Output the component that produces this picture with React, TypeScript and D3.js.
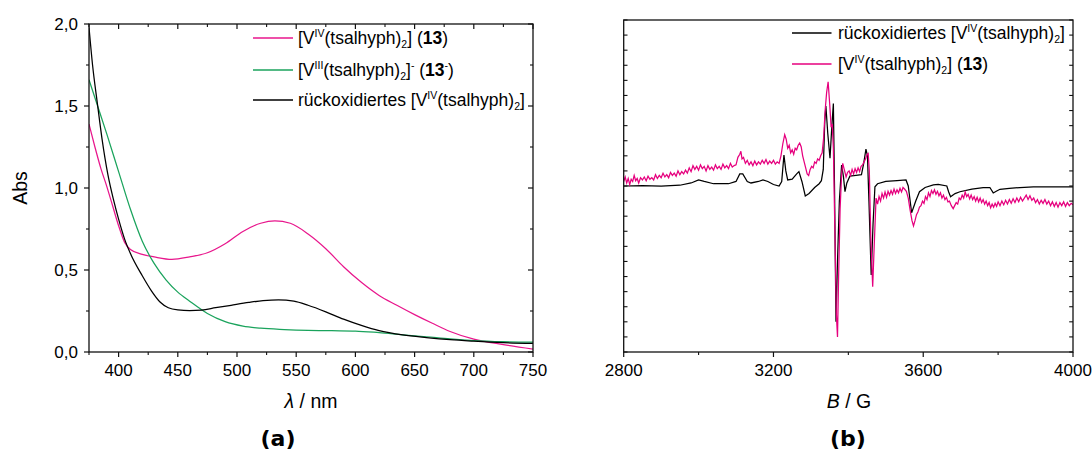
import React from 'react';
import * as d3 from 'd3';

// ---------- UV-Vis data (panel a) ----------
const uvPink13: [number, number][] = [
  [375, 1.39], [380, 1.25], [385, 1.12], [390, 1.01], [395, 0.89], [400, 0.77], [405, 0.67], [410, 0.625],
  [420, 0.595], [430, 0.58], [445, 0.565], [460, 0.58], [475, 0.605], [490, 0.66], [505, 0.735], [520, 0.785],
  [532, 0.8], [545, 0.785], [560, 0.72], [575, 0.63], [590, 0.52], [605, 0.425], [620, 0.345], [635, 0.285],
  [650, 0.228], [665, 0.175], [680, 0.125], [700, 0.078], [725, 0.045], [750, 0.018],
];
const uvGreen13red: [number, number][] = [
  [375, 1.66], [380, 1.55], [390, 1.33], [400, 1.1], [410, 0.87], [420, 0.675], [430, 0.54], [440, 0.44],
  [450, 0.365], [460, 0.31], [475, 0.235], [490, 0.185], [505, 0.158], [520, 0.145], [540, 0.137], [560, 0.132],
  [580, 0.13], [600, 0.128], [620, 0.118], [640, 0.105], [660, 0.093], [680, 0.08], [700, 0.07], [725, 0.063],
  [750, 0.06],
];
const uvBlackReox: [number, number][] = [
  [375, 1.98], [378, 1.75], [382, 1.52], [386, 1.3], [391, 1.08], [396, 0.92], [400, 0.81], [405, 0.69],
  [410, 0.6], [420, 0.465], [428, 0.37], [435, 0.305], [442, 0.27], [450, 0.257], [460, 0.253], [470, 0.256],
  [482, 0.27], [495, 0.285], [510, 0.302], [522, 0.313], [535, 0.318], [548, 0.31], [560, 0.285], [575, 0.245],
  [590, 0.2], [605, 0.162], [620, 0.13], [640, 0.104], [660, 0.088], [680, 0.075], [700, 0.066], [725, 0.057],
  [750, 0.052],
];
const uvXTicks = [400, 450, 500, 550, 600, 650, 700, 750];
const uvXMinor = [375, 425, 475, 525, 575, 625, 675, 725];
const uvYTicks = [0, 0.5, 1.0, 1.5, 2.0];
const uvYLabels = ['0,0', '0,5', '1,0', '1,5', '2,0'];
const uvYMinor = [0.25, 0.75, 1.25, 1.75];

// ---------- EPR data (panel b) ----------
const eprBlackReox: [number, number][] = [
  [2800, 0.0], [2850, 0.02], [2900, 0.0], [2950, 0.05], [2980, 0.2], [3000, 0.4], [3015, 0.3], [3040, 0.15],
  [3080, 0.15], [3100, 0.3], [3110, 0.8], [3118, 0.8], [3130, 0.3], [3140, 0.2], [3160, 0.3], [3172, 0.4],
  [3185, 0.3], [3200, 0.1], [3215, 0.0], [3222, 0.3], [3228, 2.05], [3233, 1.0], [3238, 0.4], [3250, 0.45],
  [3262, 0.8], [3268, 0.95], [3276, 0.3], [3285, -0.66], [3295, -0.5], [3310, -0.1], [3322, 0.15], [3328, 0.35],
  [3333, 1.1], [3337, 4.3], [3340, 5.3], [3345, 3.5], [3351, 1.84], [3356, 4.0], [3360, 5.46], [3363, 0],
  [3367, -9.0], [3371, -5], [3376, -1], [3382, 1.39], [3387, 0.6], [3391, -0.38], [3396, 0.2], [3404, 0.65],
  [3420, 0.7], [3435, 0.75], [3441, 1.5], [3447, 2.45], [3451, 2.0], [3455, -1], [3461, -5.9], [3466, -2.5],
  [3471, -0.05], [3478, 0.15], [3500, 0.3], [3530, 0.35], [3554, 0.4], [3560, 0.0], [3569, -1.77], [3580, -1.0],
  [3590, -0.38], [3605, -0.1], [3627, 0.07], [3640, 0.1], [3663, 0.0], [3668, -0.4], [3673, -0.71], [3685, -0.5],
  [3698, -0.38], [3730, -0.2], [3760, -0.1], [3778, -0.1], [3787, -0.46], [3795, -0.35], [3805, -0.22],
  [3830, -0.15], [3858, -0.1], [3894, -0.05], [3950, -0.05], [4000, -0.05],
];
const eprPink13: [number, number][] = [
  [2800, 0.3], [2804, 0.6], [2808, 0.2], [2812, 0.5], [2816, 0.1], [2820, 0.45], [2824, 0.3], [2828, 0.7],
  [2832, 0.35], [2836, 0.5], [2840, 0.2], [2845, 0.55], [2850, 0.4], [2855, 0.6], [2860, 0.35], [2865, 0.65],
  [2870, 0.45], [2875, 0.55], [2880, 0.4], [2885, 0.75], [2890, 0.5], [2895, 0.7], [2900, 0.55], [2905, 0.85],
  [2910, 0.6], [2915, 0.75], [2920, 0.55], [2925, 0.9], [2930, 0.7], [2935, 0.85], [2940, 0.65], [2945, 1.0],
  [2950, 0.75], [2955, 0.95], [2960, 0.8], [2965, 1.05], [2970, 0.85], [2975, 1.2], [2980, 0.95], [2985, 1.35],
  [2990, 1.1], [2995, 1.3], [3000, 1.05], [3005, 1.4], [3010, 1.15], [3015, 1.3], [3020, 1.0], [3025, 1.35],
  [3030, 1.1], [3035, 1.25], [3040, 1.05], [3045, 1.4], [3050, 1.15], [3055, 1.3], [3060, 1.1], [3065, 1.45],
  [3070, 1.2], [3075, 1.35], [3080, 1.15], [3085, 1.5], [3090, 1.25], [3095, 1.35], [3100, 1.4], [3105, 1.9],
  [3110, 2.1], [3113, 2.3], [3116, 1.8], [3120, 1.9], [3125, 1.5], [3130, 1.7], [3135, 1.4], [3140, 1.6],
  [3145, 1.35], [3150, 1.65], [3155, 1.4], [3160, 1.6], [3165, 1.45], [3170, 1.7], [3175, 1.5], [3180, 1.75],
  [3185, 1.45], [3190, 1.65], [3195, 1.5], [3200, 1.7], [3205, 1.45], [3210, 1.6], [3215, 1.5], [3220, 2.0],
  [3225, 2.8], [3230, 3.4], [3234, 3.1], [3238, 2.5], [3242, 2.7], [3246, 2.2], [3250, 2.4], [3254, 2.1],
  [3258, 2.5], [3262, 2.4], [3266, 2.7], [3270, 2.85], [3274, 2.6], [3278, 2.0], [3282, 1.6], [3286, 1.2],
  [3290, 0.8], [3294, 0.7], [3298, 1.1], [3302, 1.3], [3306, 1.2], [3310, 1.6], [3314, 1.5], [3318, 1.8],
  [3322, 1.7], [3326, 2.0], [3330, 2.2], [3334, 3.2], [3338, 5.0], [3342, 6.2], [3346, 6.91], [3350, 5.5],
  [3354, 3.9], [3357, 4.1], [3360, 2.5], [3364, -3], [3368, -8.5], [3371, -10.0], [3374, -6], [3378, -1.5],
  [3382, 0.8], [3385, 1.5], [3389, 1.1], [3394, 0.6], [3398, 0.9], [3402, 1.0], [3406, 0.7], [3410, 1.1],
  [3414, 0.8], [3418, 1.15], [3422, 0.9], [3426, 1.2], [3430, 0.95], [3434, 1.3], [3438, 1.4], [3442, 1.6],
  [3446, 1.8], [3450, 2.1], [3453, 2.16], [3456, 1.0], [3460, -3.5], [3465, -6.67], [3469, -4], [3474, -0.8],
  [3478, -1.2], [3482, -0.7], [3486, -1.0], [3490, -0.5], [3494, -0.8], [3498, -0.4], [3502, -0.75], [3506, -0.35],
  [3510, -0.6], [3514, -0.3], [3518, -0.55], [3522, -0.2], [3526, -0.5], [3530, -0.25], [3534, -0.45], [3538, -0.15],
  [3542, -0.4], [3546, -0.1], [3550, -0.2], [3555, -0.35], [3560, -0.8], [3565, -1.6], [3570, -2.3], [3574, -2.65],
  [3578, -2.3], [3582, -1.9], [3586, -1.7], [3590, -1.4], [3594, -1.3], [3598, -1.0], [3602, -1.15], [3606, -0.7],
  [3610, -0.9], [3614, -0.45], [3618, -0.7], [3622, -0.3], [3626, -0.5], [3630, -0.25], [3634, -0.55], [3638, -0.35],
  [3642, -0.65], [3646, -0.45], [3650, -0.8], [3654, -0.6], [3658, -0.9], [3662, -0.75], [3666, -1.05], [3670, -1.0],
  [3675, -1.3], [3680, -1.5], [3684, -1.3], [3688, -1.1], [3692, -1.2], [3696, -0.8], [3700, -0.9], [3704, -0.6],
  [3708, -0.8], [3712, -0.4], [3716, -0.7], [3720, -0.55], [3724, -0.85], [3728, -0.6], [3732, -0.9], [3736, -0.7],
  [3740, -1.0], [3744, -0.75], [3748, -1.05], [3752, -0.8], [3756, -1.1], [3760, -0.9], [3764, -1.2], [3768, -1.0],
  [3772, -1.3], [3776, -1.1], [3780, -1.45], [3784, -1.2], [3788, -1.4], [3792, -1.15], [3796, -1.35], [3800, -1.05],
  [3805, -1.3], [3810, -1.0], [3815, -1.25], [3820, -0.95], [3825, -1.2], [3830, -0.9], [3835, -1.15], [3840, -0.85],
  [3845, -1.1], [3850, -0.8], [3855, -1.05], [3860, -0.75], [3865, -1.0], [3870, -0.8], [3875, -0.6], [3880, -0.9],
  [3885, -0.65], [3890, -0.95], [3895, -0.8], [3900, -1.1], [3905, -0.9], [3910, -1.2], [3915, -0.95], [3920, -1.15],
  [3925, -0.9], [3930, -1.2], [3935, -1.0], [3940, -1.3], [3945, -1.05], [3950, -1.35], [3955, -1.1], [3960, -1.4],
  [3965, -1.1], [3970, -1.3], [3975, -1.05], [3980, -1.35], [3985, -1.1], [3990, -1.3], [3995, -1.15], [4000, -1.25],
];
const eprXTicks = [2800, 3200, 3600, 4000];
const eprXMinor = [3000, 3400, 3800];
const eprYTicks = d3.range(-11, 12, 1);

const FONT = 'Liberation Sans, Arial, Helvetica, sans-serif';
const PINK_A = '#e8168c';
const GREEN_A = '#1aa35c';
const PINK_B = '#e6007e';

function Legend13({ x, y, fs }: { x: number; y: number; fs: number }) {
  const s = fs * 0.6;
  return (
    <text x={x} y={y} fontSize={fs} fontFamily={FONT}>
      <tspan>[V</tspan>
      <tspan fontSize={s} dy={-fs * 0.42}>IV</tspan>
      <tspan dy={fs * 0.42}>(tsalhyph)</tspan>
      <tspan fontSize={s} dy={fs * 0.22}>2</tspan>
      <tspan dy={-fs * 0.22}>] (</tspan>
      <tspan fontWeight="bold">13</tspan>
      <tspan>)</tspan>
    </text>
  );
}
function Legend13red({ x, y, fs }: { x: number; y: number; fs: number }) {
  const s = fs * 0.6;
  return (
    <text x={x} y={y} fontSize={fs} fontFamily={FONT}>
      <tspan>[V</tspan>
      <tspan fontSize={s} dy={-fs * 0.42}>III</tspan>
      <tspan dy={fs * 0.42}>(tsalhyph)</tspan>
      <tspan fontSize={s} dy={fs * 0.22}>2</tspan>
      <tspan dy={-fs * 0.22}>]</tspan>
      <tspan fontSize={s} dy={-fs * 0.42}>-</tspan>
      <tspan dy={fs * 0.42}> (</tspan>
      <tspan fontWeight="bold">13</tspan>
      <tspan fontSize={s} dy={-fs * 0.42}>-</tspan>
      <tspan dy={fs * 0.42}>)</tspan>
    </text>
  );
}
function LegendReox({ x, y, fs }: { x: number; y: number; fs: number }) {
  const s = fs * 0.6;
  return (
    <text x={x} y={y} fontSize={fs} fontFamily={FONT}>
      <tspan>rückoxidiertes [V</tspan>
      <tspan fontSize={s} dy={-fs * 0.42}>IV</tspan>
      <tspan dy={fs * 0.42}>(tsalhyph)</tspan>
      <tspan fontSize={s} dy={fs * 0.22}>2</tspan>
      <tspan dy={-fs * 0.22}>]</tspan>
    </text>
  );
}

export default function App() {
  // panel a
  const ax = d3.scaleLinear().domain([375, 750]).range([89, 533]);
  const ay = d3.scaleLinear().domain([0, 2]).range([352, 24]);
  const aLine = d3.line<[number, number]>().x((d) => ax(d[0])).y((d) => ay(d[1])).curve(d3.curveMonotoneX);
  // panel b
  const bx = d3.scaleLinear().domain([2800, 4000]).range([623.7, 1073]);
  const by = d3.scaleLinear().domain([-11, 11]).range([352, 20]);
  const bLine = d3.line<[number, number]>().x((d) => bx(d[0])).y((d) => by(d[1]));

  const tickFs = 17;
  const legFs = 17.5;
  const axisStroke = '#111';

  return (
    <svg width={1092} height={452} style={{ position: 'absolute', left: 0, top: 0, background: '#fff' }}>
      <rect x={0} y={0} width={1092} height={452} fill="#fff" />
      {/* ---------- Panel a ---------- */}
      <g>
        <defs>
          <clipPath id="clipA">
            <rect x={89} y={24} width={444} height={328} />
          </clipPath>
        </defs>
        <g clipPath="url(#clipA)" fill="none" strokeWidth={1.25}>
          <path d={aLine(uvPink13) || ''} stroke={PINK_A} />
          <path d={aLine(uvGreen13red) || ''} stroke={GREEN_A} />
          <path d={aLine(uvBlackReox) || ''} stroke="#000" />
        </g>
        <rect x={89} y={24} width={444} height={328} fill="none" stroke={axisStroke} strokeWidth={1.3} />
        {uvXTicks.map((t) => (
          <g key={'axt' + t}>
            <line x1={ax(t)} x2={ax(t)} y1={352} y2={357} stroke={axisStroke} strokeWidth={1.2} />
            <line x1={ax(t)} x2={ax(t)} y1={24} y2={29} stroke={axisStroke} strokeWidth={1.2} />
            <text x={ax(t)} y={376} fontSize={tickFs} fontFamily={FONT} textAnchor="middle">{t}</text>
          </g>
        ))}
        {uvXMinor.map((t) => (
          <g key={'axm' + t}>
            <line x1={ax(t)} x2={ax(t)} y1={352} y2={355} stroke={axisStroke} strokeWidth={1.1} />
            <line x1={ax(t)} x2={ax(t)} y1={24} y2={27} stroke={axisStroke} strokeWidth={1.1} />
          </g>
        ))}
        {uvYTicks.map((t, i) => (
          <g key={'ayt' + t}>
            <line x1={84} x2={89} y1={ay(t)} y2={ay(t)} stroke={axisStroke} strokeWidth={1.2} />
            <line x1={528} x2={533} y1={ay(t)} y2={ay(t)} stroke={axisStroke} strokeWidth={1.2} />
            <text x={78} y={ay(t) + 6} fontSize={tickFs} fontFamily={FONT} textAnchor="end">{uvYLabels[i]}</text>
          </g>
        ))}
        {uvYMinor.map((t) => (
          <g key={'aym' + t}>
            <line x1={86} x2={89} y1={ay(t)} y2={ay(t)} stroke={axisStroke} strokeWidth={1.1} />
            <line x1={530} x2={533} y1={ay(t)} y2={ay(t)} stroke={axisStroke} strokeWidth={1.1} />
          </g>
        ))}
        <text transform="translate(27,188) rotate(-90)" fontSize={19.5} fontFamily={FONT} textAnchor="middle">Abs</text>
        <text x={311} y={408} fontSize={19.5} fontFamily={FONT} textAnchor="middle">
          <tspan fontStyle="italic">λ</tspan> / nm
        </text>
        <line x1={253} x2={293} y1={38} y2={38} stroke={PINK_A} strokeWidth={1.4} />
        <Legend13 x={298} y={44} fs={legFs} />
        <line x1={253} x2={293} y1={70} y2={70} stroke={GREEN_A} strokeWidth={1.4} />
        <Legend13red x={298} y={76} fs={legFs} />
        <line x1={253} x2={293} y1={100} y2={100} stroke="#000" strokeWidth={1.4} />
        <LegendReox x={298} y={106} fs={legFs} />
        <text x={278} y={446} fontSize={22} fontWeight="bold" fontFamily="DejaVu Sans, Verdana, sans-serif" textAnchor="middle">(a)</text>
      </g>

      {/* ---------- Panel b ---------- */}
      <g>
        <defs>
          <clipPath id="clipB">
            <rect x={623.7} y={20} width={449.3} height={332} />
          </clipPath>
        </defs>
        <g clipPath="url(#clipB)" fill="none" strokeWidth={1.25}>
          <path d={bLine(eprBlackReox) || ''} stroke="#000" />
          <path d={bLine(eprPink13) || ''} stroke={PINK_B} />
        </g>
        <rect x={623.7} y={20} width={449.3} height={332} fill="none" stroke={axisStroke} strokeWidth={1.3} />
        {eprXTicks.map((t) => (
          <g key={'bxt' + t}>
            <line x1={bx(t)} x2={bx(t)} y1={352} y2={357} stroke={axisStroke} strokeWidth={1.2} />
            <text x={bx(t)} y={376} fontSize={tickFs} fontFamily={FONT} textAnchor="middle">{t}</text>
          </g>
        ))}
        {eprXMinor.map((t) => (
          <line key={'bxm' + t} x1={bx(t)} x2={bx(t)} y1={352} y2={355} stroke={axisStroke} strokeWidth={1.1} />
        ))}
        {eprYTicks.map((t) => (
          <g key={'byt' + t}>
            <line x1={623.7} x2={627.5} y1={by(t)} y2={by(t)} stroke={axisStroke} strokeWidth={1.1} />
            <line x1={1069.2} x2={1073} y1={by(t)} y2={by(t)} stroke={axisStroke} strokeWidth={1.1} />
          </g>
        ))}
        <text x={849} y={408} fontSize={19.5} fontFamily={FONT} textAnchor="middle">
          <tspan fontStyle="italic">B</tspan> / G
        </text>
        <line x1={792} x2={831.5} y1={33} y2={33} stroke="#000" strokeWidth={1.4} />
        <LegendReox x={838} y={39} fs={legFs} />
        <line x1={792} x2={831.5} y1={64} y2={64} stroke={PINK_B} strokeWidth={1.4} />
        <Legend13 x={838} y={70} fs={legFs} />
        <text x={848} y={446} fontSize={22} fontWeight="bold" fontFamily="DejaVu Sans, Verdana, sans-serif" textAnchor="middle">(b)</text>
      </g>
    </svg>
  );
}
